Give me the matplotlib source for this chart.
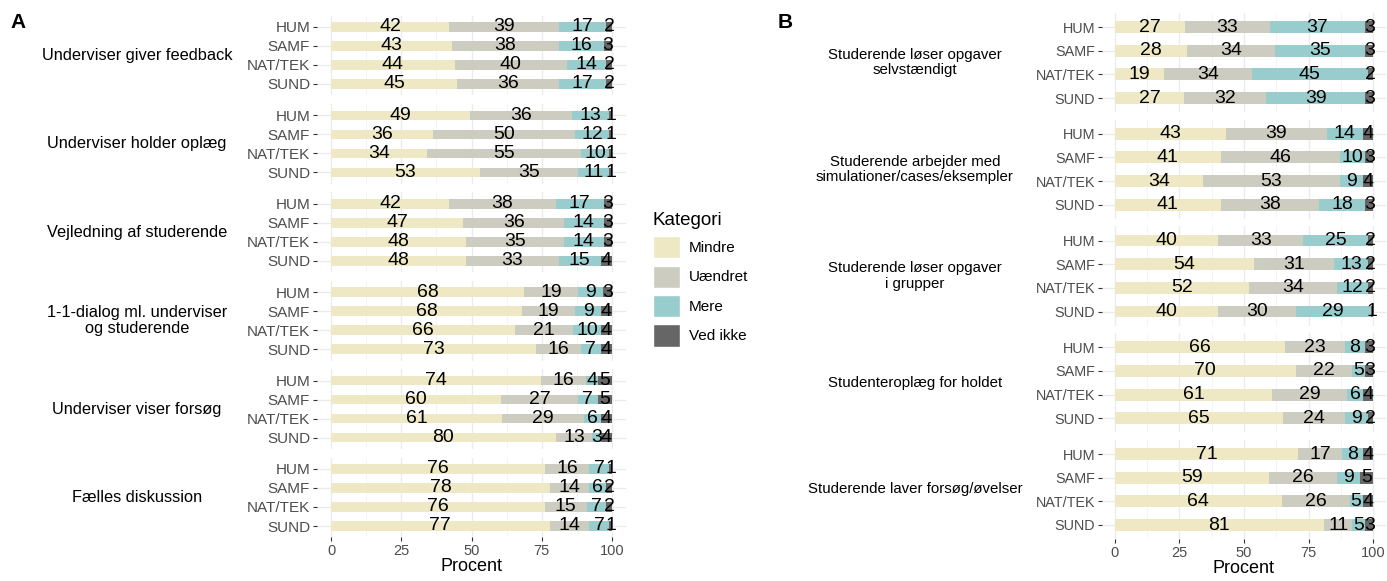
import numpy as np
import matplotlib.pyplot as plt
from matplotlib.patches import Patch

plt.rcParams['font.family'] = ['Liberation Sans', 'DejaVu Sans']

categories = ["Mindre", "Uændret", "Mere", "Ved ikke"]
colors = ["#EEE8C4", "#CCCCC0", "#99CCCC", "#666666"]
fakulteter = ["HUM", "SAMF", "NAT/TEK", "SUND"]

# panel A: one block per facet, rows HUM, SAMF, NAT/TEK, SUND
a_labels = ["Underviser giver feedback", "Underviser holder oplæg",
            "Vejledning af studerende", "1-1-dialog ml. underviser\nog studerende",
            "Underviser viser forsøg", "Fælles diskussion"]
a_values = [
    [[42, 39, 17, 2], [43, 38, 16, 3], [44, 40, 14, 2], [45, 36, 17, 2]],
    [[49, 36, 13, 1], [36, 50, 12, 1], [34, 55, 10, 1], [53, 35, 11, 1]],
    [[42, 38, 17, 3], [47, 36, 14, 3], [48, 35, 14, 3], [48, 33, 15, 4]],
    [[68, 19, 9, 3], [68, 19, 9, 4], [66, 21, 10, 4], [73, 16, 7, 4]],
    [[74, 16, 4, 5], [60, 27, 7, 5], [61, 29, 6, 4], [80, 13, 3, 4]],
    [[76, 16, 7, 1], [78, 14, 6, 2], [76, 15, 7, 2], [77, 14, 7, 1]],
]

# panel B
b_labels = ["Studerende løser opgaver\nselvstændigt",
            "Studerende arbejder med\nsimulationer/cases/eksempler",
            "Studerende løser opgaver\ni grupper", "Studenteroplæg for holdet",
            "Studerende laver forsøg/øvelser"]
b_values = [
    [[27, 33, 37, 3], [28, 34, 35, 3], [19, 34, 45, 2], [27, 32, 39, 3]],
    [[43, 39, 14, 4], [41, 46, 10, 3], [34, 53, 9, 4], [41, 38, 18, 3]],
    [[40, 33, 25, 2], [54, 31, 13, 2], [52, 34, 12, 2], [40, 30, 29, 1]],
    [[66, 23, 8, 3], [70, 22, 5, 3], [61, 29, 6, 4], [65, 24, 9, 2]],
    [[71, 17, 8, 4], [59, 26, 9, 5], [64, 26, 5, 4], [81, 11, 5, 3]],
]

W, H = 1387, 581
fig = plt.figure(figsize=(W / 100, H / 100), dpi=100)


def px(x, y):
    return x / W, 1 - y / H


def draw_panel(labels, values, x0, x1, top, step, height, label_x, label_size, tick_size):
    n = len(labels)
    for i in range(n):
        y_top = top + i * step
        l, b = px(x0, y_top + height)
        ax = fig.add_axes([l, b, (x1 - x0) / W, height / H])
        vals = np.array(values[i], dtype=float)
        pct = vals / vals.sum(axis=1, keepdims=True) * 100
        left = np.zeros(len(fakulteter))
        ypos = np.arange(len(fakulteter))
        for k in range(len(categories)):
            ax.barh(ypos, pct[:, k], left=left, height=0.5, color=colors[k], zorder=2)
            for j in range(len(fakulteter)):
                ax.text(left[j] + pct[j, k] / 2, ypos[j], str(values[i][j][k]),
                        ha='center', va='center', fontsize=14, color='black', zorder=3)
            left += pct[:, k]
        ax.set_xlim(-5, 105)
        ax.set_ylim(len(fakulteter) - 0.4, -0.6)
        ax.set_yticks(ypos)
        ax.set_yticklabels(fakulteter)
        ax.set_xticks([0, 25, 50, 75, 100])
        ax.set_xticks([12.5, 37.5, 62.5, 87.5], minor=True)
        ax.grid(True, which='major', color='#EBEBEB', linewidth=1.0, zorder=0)
        ax.grid(True, which='minor', axis='x', color='#F3F3F3', linewidth=0.6, zorder=0)
        ax.set_axisbelow(True)
        for s in ax.spines.values():
            s.set_visible(False)
        ax.tick_params(axis='y', length=3, width=0.8, color='#333333',
                       labelcolor='#4D4D4D', labelsize=tick_size, pad=2)
        ax.tick_params(axis='x', which='minor', length=0)
        if i == n - 1:
            ax.tick_params(axis='x', length=3, width=0.8, color='#333333',
                           labelcolor='#4D4D4D', labelsize=10.5, pad=2)
            ax.set_xlabel("Procent", fontsize=13, labelpad=0)
        else:
            ax.tick_params(axis='x', length=0, labelbottom=False)
        cx, cy = px(label_x, y_top + height / 2)
        fig.text(cx, cy, labels[i], ha='center', va='center', fontsize=label_size,
                 color='black', linespacing=1.1)


draw_panel(a_labels, a_values, 317, 626, 15.6, 88.4, 79.8, 137, 11.8, 11)
draw_panel(b_labels, b_values, 1102, 1386, 12.8, 106.75, 99.4, 915, 10.8, 10.4)

fig.text(*px(10, 22), "A", fontsize=15, fontweight='bold', va='center', ha='left')
fig.text(*px(778, 22), "B", fontsize=15, fontweight='bold', va='center', ha='left')

handles = [Patch(facecolor=c, edgecolor='white') for c in colors]
leg = fig.legend(handles, categories, title="Kategori", loc='upper left',
                 bbox_to_anchor=px(639, 198), frameon=False, fontsize=11,
                 title_fontsize=13.5, handlelength=1.8, handleheight=1.85,
                 handletextpad=0.55, labelspacing=0.48)
leg._legend_box.align = "left"

fig.savefig("out.png", dpi=100)
